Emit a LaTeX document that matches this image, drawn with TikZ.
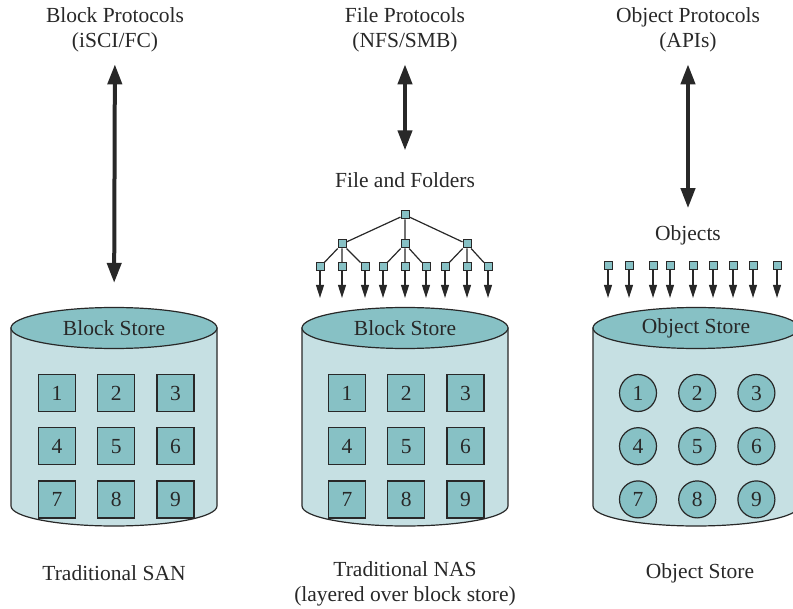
\documentclass[tikz,border=0pt]{standalone}
\usepackage{fontspec}
\setmainfont{Liberation Serif}
\usetikzlibrary{positioning,arrows.meta,shapes.geometric}
\definecolor{storeteal}{RGB}{135,193,197}
\definecolor{storebody}{RGB}{198,224,227}
\definecolor{inkgray}{RGB}{40,40,40}

\begin{document}
\begin{tikzpicture}[x=0.5pt, y=-0.5pt, every node/.style={font=\fontsize{10.75}{12.5}\selectfont, text=inkgray, align=center},
  topcap/.style={draw=inkgray, ellipse, fill=storeteal, minimum width=103pt, minimum height=20.5pt, inner sep=0pt, line width=0.6pt},
  body/.style={draw=inkgray, fill=storebody, line width=0.6pt},
  blk/.style={draw=inkgray, fill=storeteal, minimum size=18.5pt, inner sep=0pt, line width=0.6pt},
  obj/.style={draw=inkgray, circle, fill=storeteal, minimum size=18.5pt, inner sep=0pt, line width=0.6pt},
  leaf/.style={draw=inkgray, fill=storeteal, minimum size=4pt, inner sep=0pt, line width=0.5pt},
  proto/.style={{Triangle[length=10pt, width=7pt]}-{Triangle[length=10pt, width=7pt]}, line width=2pt, inkgray},
  drop/.style={-{Triangle[length=6.5pt, width=4pt]}, line width=0.6pt, inkgray}]
  \useasboundingbox (0,0) rectangle (793,609);
  \clip (0,0) rectangle (793,609);

  % traditional SAN
  \path[body] (11,328) -- (11,506) arc[start angle=180, end angle=360, x radius=51.5pt, y radius=10pt] -- (217,328) -- cycle;
  \node[topcap] (san) at (114,328) {Block Store};
  \node[blk] (s1) at (57,393) {1};
  \node[blk] (s2) [right=10.5pt of s1] {2};
  \node[blk] (s3) [right=10.5pt of s2] {3};
  \node[blk] (s4) [below=7.5pt of s1] {4};
  \node[blk] (s5) [right=10.5pt of s4] {5};
  \node[blk] (s6) [right=10.5pt of s5] {6};
  \node[blk] (s7) [below=7.5pt of s4] {7};
  \node[blk] (s8) [right=10.5pt of s7] {8};
  \node[blk] (s9) [right=10.5pt of s8] {9};
  \node (bp) at (115,30) {Block Protocols\\(iSCI/FC)};
  \draw[proto, shorten <=2.5pt, shorten >=12pt] (bp) -- (san);
  \node (lsan) at (114,573) {Traditional SAN};

  % traditional NAS
  \path[body] (302,328) -- (302,506) arc[start angle=180, end angle=360, x radius=51.5pt, y radius=10pt] -- (508,328) -- cycle;
  \node[topcap] (nas) at (405,328) {Block Store};
  \node[blk] (n1) at (347,393) {1};
  \node[blk] (n2) [right=10.5pt of n1] {2};
  \node[blk] (n3) [right=10.5pt of n2] {3};
  \node[blk] (n4) [below=7.5pt of n1] {4};
  \node[blk] (n5) [right=10.5pt of n4] {5};
  \node[blk] (n6) [right=10.5pt of n5] {6};
  \node[blk] (n7) [below=7.5pt of n4] {7};
  \node[blk] (n8) [right=10.5pt of n7] {8};
  \node[blk] (n9) [right=10.5pt of n8] {9};
  \node (fp) at (405,30) {File Protocols\\(NFS/SMB)};
  \node (ff) at (405,180) {File and Folders};
  \draw[proto, shorten <=2.5pt, shorten >=7.5pt] (fp) -- (ff);
  \node[leaf] (root) at (405,215) {};
  \node[leaf] (d1) at (342,244) {};
  \node[leaf] (d2) at (405,244) {};
  \node[leaf] (d3) at (467,244) {};
  \node[leaf] (f1) at (320,267) {};
  \node[leaf] (f2) at (342,267) {};
  \node[leaf] (f3) at (365,267) {};
  \node[leaf] (f4) at (383,267) {};
  \node[leaf] (f5) at (405,267) {};
  \node[leaf] (f6) at (426,267) {};
  \node[leaf] (f7) at (445,267) {};
  \node[leaf] (f8) at (467,267) {};
  \node[leaf] (f9) at (488,267) {};
  \draw[inkgray, line width=0.6pt] (root) -- (d1) (root) -- (d2) (root) -- (d3);
  \draw[inkgray, line width=0.6pt] (d1) -- (f1) (d1) -- (f2) (d1) -- (f3);
  \draw[inkgray, line width=0.6pt] (d2) -- (f4) (d2) -- (f5) (d2) -- (f6);
  \draw[inkgray, line width=0.6pt] (d3) -- (f7) (d3) -- (f8) (d3) -- (f9);
  \draw[drop, shorten >=4.5pt] (f1) -- (f1 |- nas.north);
  \draw[drop, shorten >=4.5pt] (f2) -- (f2 |- nas.north);
  \draw[drop, shorten >=4.5pt] (f3) -- (f3 |- nas.north);
  \draw[drop, shorten >=4.5pt] (f4) -- (f4 |- nas.north);
  \draw[drop, shorten >=4.5pt] (f5) -- (f5 |- nas.north);
  \draw[drop, shorten >=4.5pt] (f6) -- (f6 |- nas.north);
  \draw[drop, shorten >=4.5pt] (f7) -- (f7 |- nas.north);
  \draw[drop, shorten >=4.5pt] (f8) -- (f8 |- nas.north);
  \draw[drop, shorten >=4.5pt] (f9) -- (f9 |- nas.north);
  \node (lnas) at (405,584) {Traditional NAS\\(layered over block store)};

  % object store
  \path[body] (593,328) -- (593,506) arc[start angle=180, end angle=360, x radius=51.5pt, y radius=10pt] -- (799,328) -- cycle;
  \node[topcap] (obs) at (696,328) {Object Store};
  \node[obj] (c1) at (638,393) {1};
  \node[obj] (c2) [right=10.5pt of c1] {2};
  \node[obj] (c3) [right=10.5pt of c2] {3};
  \node[obj] (c4) [below=7.5pt of c1] {4};
  \node[obj] (c5) [right=10.5pt of c4] {5};
  \node[obj] (c6) [right=10.5pt of c5] {6};
  \node[obj] (c7) [below=7.5pt of c4] {7};
  \node[obj] (c8) [right=10.5pt of c7] {8};
  \node[obj] (c9) [right=10.5pt of c8] {9};
  \node (op) at (688,30) {Object Protocols\\(APIs)};
  \node (objs) at (688,235) {Objects};
  \draw[proto, shorten <=2.5pt, shorten >=5pt] (op) -- (objs);
  \node[leaf] (o1) at (608,266) {};
  \node[leaf] (o2) at (629,266) {};
  \node[leaf] (o3) at (653,266) {};
  \node[leaf] (o4) at (670,266) {};
  \node[leaf] (o5) at (693,266) {};
  \node[leaf] (o6) at (713,266) {};
  \node[leaf] (o7) at (733,266) {};
  \node[leaf] (o8) at (753,266) {};
  \node[leaf] (o9) at (777,266) {};
  \draw[drop, shorten >=4.5pt] (o1) -- (o1 |- obs.north);
  \draw[drop, shorten >=4.5pt] (o2) -- (o2 |- obs.north);
  \draw[drop, shorten >=4.5pt] (o3) -- (o3 |- obs.north);
  \draw[drop, shorten >=4.5pt] (o4) -- (o4 |- obs.north);
  \draw[drop, shorten >=4.5pt] (o5) -- (o5 |- obs.north);
  \draw[drop, shorten >=4.5pt] (o6) -- (o6 |- obs.north);
  \draw[drop, shorten >=4.5pt] (o7) -- (o7 |- obs.north);
  \draw[drop, shorten >=4.5pt] (o8) -- (o8 |- obs.north);
  \draw[drop, shorten >=4.5pt] (o9) -- (o9 |- obs.north);
  \node (lobj) at (700,573) {Object Store};
\end{tikzpicture}
\end{document}
